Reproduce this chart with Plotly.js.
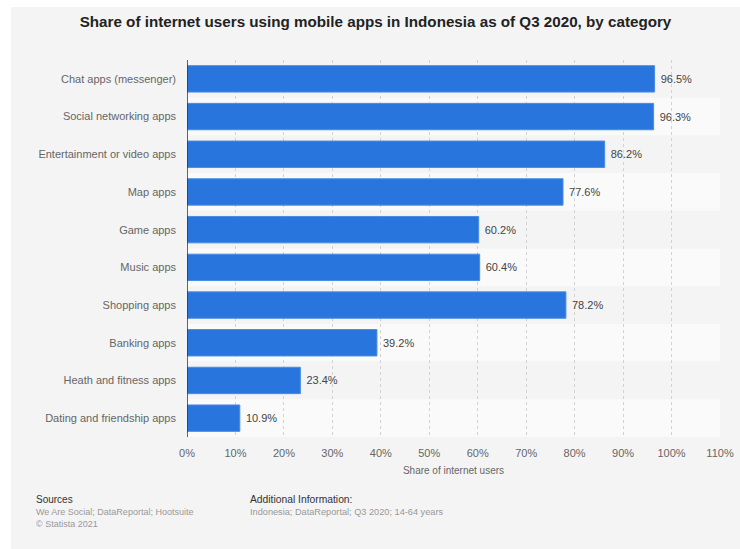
<!DOCTYPE html>
<html><head><meta charset="utf-8">
<script src="https://cdn.plot.ly/plotly-3.0.1.min.js"></script>
<style>
html,body{margin:0;padding:0;background:#fff;width:740px;height:549px;overflow:hidden;}
#chart{position:absolute;left:11px;top:7px;width:729px;height:542px;}
</style></head>
<body><div id="chart"></div>
<script>
const categories = ["Chat apps (messenger)","Social networking apps","Entertainment or video apps","Map apps","Game apps","Music apps","Shopping apps","Banking apps","Heath and fitness apps","Dating and friendship apps"];
const values = [96.5,96.3,86.2,77.6,60.2,60.4,78.2,39.2,23.4,10.9];
const tickVals = [0,10,20,30,40,50,60,70,80,90,100,110];
const tickText = tickVals.map(v => v + "%");

const font = "Liberation Sans, Arial, Helvetica, sans-serif";
const M = {l: 176, r: 20, t: 53, b: 112};
const PW = 729 - M.l - M.r, PH = 542 - M.t - M.b;
const px = x => (x - 11 - M.l) / PW;          // page x -> paper x
const py = y => -(y - 7 - M.t - PH) / PH;      // page y -> paper y

const shapes = categories.map((c, i) => ({
  type: "rect", xref: "paper", yref: "y", layer: "below",
  x0: 0, x1: 1, y0: i - 0.5, y1: i + 0.5,
  fillcolor: i % 2 === 0 ? "#f4f4f4" : "#fafafa", line: {width: 0}
}));
shapes.push({type:"line", xref:"x", yref:"paper", x0:0, x1:0, y0:0, y1:1, line:{color:"#333", width:1.5}});

const trace = {
  type: "bar", orientation: "h", x: values, y: categories,
  marker: {color: "#2876dd", line: {color: "#4a8ce3", width: 1}},
  width: 0.7,
  text: values.map(v => "\u00a0" + v.toFixed(1) + "%"), textposition: "outside",
  textfont: {family: font, size: 11, color: "#444"}, cliponaxis: false,
  hoverinfo: "none"
};

const layout = {
  width: 729, height: 542,
  paper_bgcolor: "#f4f4f4", plot_bgcolor: "#f4f4f4",
  margin: M,
  showlegend: false,
  title: {text: "<b>Share of internet users using mobile apps in Indonesia as of Q3 2020, by category</b>",
    font: {family: font, size: 15.2, color: "#222"}, x: 0.5, xanchor: "center", xref: "container",
    y: 1 - 15/542, yanchor: "middle", yref: "container"},
  xaxis: {range: [0, 110], tickvals: tickVals, ticktext: tickText, showgrid: true,
    gridcolor: "#d2d2d2", griddash: "dot", gridwidth: 1, zeroline: false, showline: false,
    tickfont: {family: font, size: 11, color: "#666"}, ticks: "", ticklabelstandoff: 8,
    title: {text: "Share of internet users", font: {family: font, size: 10, color: "#666"}, standoff: 8}},
  yaxis: {autorange: "reversed", showgrid: false, zeroline: false, showline: false, ticks: "",
    tickfont: {family: font, size: 11, color: "#666"}, ticklabelstandoff: 10},
  shapes: shapes,
  annotations: [
    {text: "Sources", xref: "paper", yref: "paper", x: px(34), y: py(492), xanchor: "left", yanchor: "top", showarrow: false, font: {family: font, size: 10, color: "#333"}},
    {text: "We Are Social; DataReportal; Hootsuite<br>© Statista 2021", align: "left", xref: "paper", yref: "paper", x: px(34), y: py(505), xanchor: "left", yanchor: "top", showarrow: false, font: {family: font, size: 9, color: "#999"}},
    {text: "Additional Information:", xref: "paper", yref: "paper", x: px(248), y: py(492), xanchor: "left", yanchor: "top", showarrow: false, font: {family: font, size: 10.3, color: "#333"}},
    {text: "Indonesia; DataReportal; Q3 2020; 14-64 years", xref: "paper", yref: "paper", x: px(248), y: py(505), xanchor: "left", yanchor: "top", showarrow: false, font: {family: font, size: 9.2, color: "#999"}}
  ]
};
Plotly.newPlot("chart", [trace], layout, {displayModeBar: false, staticPlot: true});
</script></body></html>
